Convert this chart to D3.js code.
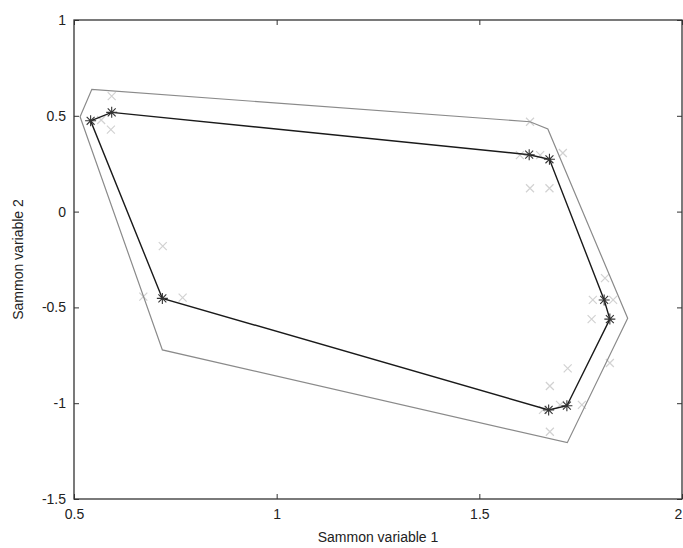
<!DOCTYPE html>
<html>
<head>
<meta charset="utf-8">
<script src="https://cdn.jsdelivr.net/npm/d3@7"></script>
<style>
  html, body { margin: 0; padding: 0; background: #fff; }
  svg { display: block; }
  text { font-family: "Liberation Sans", Arial, sans-serif; fill: #222; }
</style>
</head>
<body>
<svg id="chart" width="683" height="548"></svg>
<script>
// Sammon projection: inner hull (with vertex markers), outer margin hull and data points
const hullX = [0.541, 0.593, 1.623, 1.673, 1.808, 1.822, 1.716, 1.671, 0.718];
const hullY = [0.474, 0.518, 0.297, 0.273, -0.461, -0.561, -1.013, -1.035, -0.453];

const outerX = [0.515, 0.544, 1.625, 1.669, 1.866, 1.717, 0.718];
const outerY = [0.495, 0.638, 0.469, 0.431, -0.557, -1.206, -0.722];

const pointX = [0.593, 0.591, 0.567, 0.719, 0.768, 0.671, 1.625, 1.673, 1.600, 1.650, 1.706, 1.625,
                1.810, 1.780, 1.830, 1.777, 1.822, 1.718, 1.674, 1.753, 1.674, 1.657, 1.699];
const pointY = [0.603, 0.428, 0.478, -0.180, -0.449, -0.444, 0.122, 0.122, 0.295, 0.295, 0.306, 0.469,
                -0.347, -0.461, -0.461, -0.561, -0.790, -0.818, -0.910, -1.009, -1.149, -1.035, -1.009];

const xTicks = [0.5, 1, 1.5, 2];
const yTicks = [-1.5, -1, -0.5, 0, 0.5, 1];
const xLabel = "Sammon variable 1";
const yLabel = "Sammon variable 2";

const svg = d3.select("#chart");
const plotLeft = 74, plotRight = 682, plotTop = 20, plotBottom = 499;

const x = d3.scaleLinear().domain([0.5, 2]).range([plotLeft, plotRight]);
const y = d3.scaleLinear().domain([-1.5, 1]).range([plotBottom, plotTop]);

const tickFmt = d => String(d);

// axes box with inward ticks on all four sides
const axisColor = "#333";
function styleAxis(g) {
  g.select(".domain").remove();
  g.selectAll(".tick line").attr("stroke", axisColor).attr("stroke-width", 1);
  g.selectAll(".tick text")
    .style("font-family", "'Liberation Sans', Arial, sans-serif")
    .style("font-size", "14px").attr("fill", "#222");
}

const xAxisG = svg.append("g").attr("transform", `translate(0,${plotBottom})`)
  .call(d3.axisBottom(x).tickValues(xTicks).tickFormat(tickFmt).tickSizeInner(-5).tickPadding(10))
  .call(styleAxis);
// keep the last label inside the page edge
xAxisG.selectAll(".tick text").filter(d => d === xTicks[xTicks.length - 1]).attr("dx", "-4");

svg.append("g").attr("transform", `translate(0,${plotTop})`)
  .call(d3.axisTop(x).tickValues(xTicks).tickFormat("").tickSizeInner(-5))
  .call(styleAxis);
svg.append("g").attr("transform", `translate(${plotLeft},0)`)
  .call(d3.axisLeft(y).tickValues(yTicks).tickFormat(tickFmt).tickSizeInner(-5).tickPadding(8))
  .call(styleAxis);
svg.append("g").attr("transform", `translate(${plotRight},0)`)
  .call(d3.axisRight(y).tickValues(yTicks).tickFormat("").tickSizeInner(-5))
  .call(styleAxis);

svg.append("rect")
  .attr("x", plotLeft).attr("y", plotTop)
  .attr("width", plotRight - plotLeft).attr("height", plotBottom - plotTop)
  .attr("fill", "none").attr("stroke", axisColor).attr("stroke-width", 1.3);

// marker shapes: plain x for data points, asterisk for hull vertices
const crossSym = {
  draw(ctx, size) {
    const r = Math.sqrt(size) / 2;
    ctx.moveTo(-r, -r); ctx.lineTo(r, r);
    ctx.moveTo(-r, r); ctx.lineTo(r, -r);
  }
};
const starSym = {
  draw(ctx, size) {
    const r = Math.sqrt(size) / 2;
    const d = r * 0.72;
    ctx.moveTo(-r, 0); ctx.lineTo(r, 0);
    ctx.moveTo(0, -r); ctx.lineTo(0, r);
    ctx.moveTo(-d, -d); ctx.lineTo(d, d);
    ctx.moveTo(-d, d); ctx.lineTo(d, -d);
  }
};

svg.append("g").selectAll("path")
  .data(d3.range(pointX.length))
  .join("path")
  .attr("transform", i => `translate(${x(pointX[i])},${y(pointY[i])})`)
  .attr("d", d3.symbol(crossSym, 64))
  .attr("fill", "none").attr("stroke", "#d2d2d2").attr("stroke-width", 1.2);

// outer hull
const line = d3.line().x(d => x(d[0])).y(d => y(d[1])).curve(d3.curveLinearClosed);
svg.append("path")
  .datum(outerX.map((v, i) => [v, outerY[i]]))
  .attr("d", line)
  .attr("fill", "none").attr("stroke", "#8a8a8a").attr("stroke-width", 1.2);

// inner hull
const hull = hullX.map((v, i) => [v, hullY[i]]);
svg.append("path")
  .datum(hull)
  .attr("d", line)
  .attr("fill", "none").attr("stroke", "#1a1a1a").attr("stroke-width", 1.4);

svg.append("g").selectAll("path")
  .data(hull)
  .join("path")
  .attr("transform", d => `translate(${x(d[0])},${y(d[1])})`)
  .attr("d", d3.symbol(starSym, 121))
  .attr("fill", "none").attr("stroke", "#333").attr("stroke-width", 1.1);

// axis titles
svg.append("text")
  .attr("x", (plotLeft + plotRight) / 2).attr("y", 542)
  .attr("text-anchor", "middle")
  .style("font-size", "14px")
  .text(xLabel);

svg.append("text")
  .attr("transform", `translate(23,${(plotTop + plotBottom) / 2}) rotate(-90)`)
  .attr("text-anchor", "middle")
  .style("font-size", "14px")
  .text(yLabel);
</script>
</body>
</html>
